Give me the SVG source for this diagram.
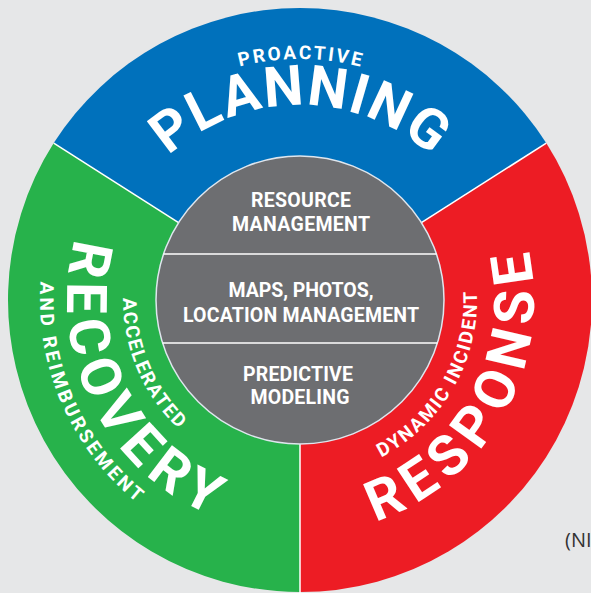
<svg xmlns="http://www.w3.org/2000/svg" xmlns:xlink="http://www.w3.org/1999/xlink" width="591" height="593" viewBox="0 0 591 593">
<style>
.seg{stroke:none}
.div{stroke:#ffffff;stroke-width:1.5;fill:none}
.big{font-family:Roboto,"Liberation Sans",sans-serif;font-weight:700;font-size:56px;fill:#ffffff}
.small{font-family:Roboto,"Liberation Sans",sans-serif;font-weight:700;font-size:19px;fill:#ffffff}
.core{font-family:Roboto,"Liberation Sans",sans-serif;font-weight:700;font-size:19.5px;fill:#ffffff;text-anchor:middle}
.note{font-family:"Open Sans","Liberation Sans",sans-serif;font-size:20px;fill:#333333}
</style>
<defs>
<path id="pProactive" d="M91.29,179.5 A241,241 0 0,1 508.71,179.5"/>
<path id="pPlanning" d="M131.13,202.5 A195,195 0 0,1 468.87,202.5"/>
<path id="pRecovery" d="M98.01,183.85 A233,233 0 0,0 267.98,530.79"/>
<path id="pAccel" d="M130.73,248.25 A177,177 0 0,0 219.64,457.71"/>
<path id="pReimb" d="M58.09,204.71 A260,260 0 0,0 204.71,541.91"/>
<path id="pResponse" d="M317.95,533.31 A234,234 0 0,0 509.6,195.95"/>
<path id="pDynamic" d="M345.81,470.97 A177,177 0 0,0 470.97,254.19"/>
</defs>
<rect width="591" height="593" fill="#e6e7e8"/>
<g id="planning">
<path class="seg" fill="#0071bc" d="M300,300 L53.73,143.11 A292,292 0 0,1 546.27,143.11 Z"/>
<text class="small" font-size="18"><textPath xlink:href="#pProactive" href="#pProactive" startOffset="50%" text-anchor="middle" textLength="122">PROACTIVE</textPath></text>
<text class="big"><textPath xlink:href="#pPlanning" href="#pPlanning" startOffset="50%" text-anchor="middle" textLength="288">PLANNING</textPath></text>
</g>
<g id="response">
<path class="seg" fill="#ed1c24" d="M300,300 L546.27,143.11 A292,292 0 0,1 300,592 Z"/>
<text class="small"><textPath xlink:href="#pDynamic" href="#pDynamic" startOffset="50%" text-anchor="middle" textLength="202">DYNAMIC INCIDENT</textPath></text>
<text class="big"><textPath xlink:href="#pResponse" href="#pResponse" startOffset="50%" text-anchor="middle" textLength="340">RESPONSE</textPath></text>
</g>
<g id="recovery">
<path class="seg" fill="#27b24b" d="M300,300 L300,592 A292,292 0 0,1 53.73,143.11 Z"/>
<text class="small"><textPath xlink:href="#pAccel" href="#pAccel" startOffset="50%" text-anchor="middle" textLength="146">ACCELERATED</textPath></text>
<text class="big"><textPath xlink:href="#pRecovery" href="#pRecovery" startOffset="50%" text-anchor="middle" textLength="336">RECOVERY</textPath></text>
<text class="small"><textPath xlink:href="#pReimb" href="#pReimb" startOffset="50%" text-anchor="middle" textLength="250">AND REIMBURSEMENT</textPath></text>
</g>
<g id="connectors">
<line class="div" x1="300" y1="300" x2="53.73" y2="143.11"/>
<line class="div" x1="300" y1="300" x2="546.27" y2="143.11"/>
<line class="div" x1="300" y1="300" x2="300" y2="593"/>
</g>
<g id="core">
<circle cx="300" cy="300" r="144" fill="#6d6e71" stroke="#dfe6ee" stroke-width="1.5"/>
<line class="div" x1="163.5" y1="254" x2="436.5" y2="254"/>
<line class="div" x1="162.6" y1="343" x2="437.4" y2="343"/>
<g id="resource">
<text class="core" x="301" y="207" textLength="100">RESOURCE</text>
<text class="core" x="301" y="231" textLength="138">MANAGEMENT</text>
</g>
<g id="maps">
<text class="core" x="301" y="297" textLength="145">MAPS, PHOTOS,</text>
<text class="core" x="301" y="322" textLength="236">LOCATION MANAGEMENT</text>
</g>
<g id="predictive">
<text class="core" x="298" y="381" textLength="110">PREDICTIVE</text>
<text class="core" x="300" y="404" textLength="99">MODELING</text>
</g>
</g>
<text class="note" x="565" y="547">(NI</text>
</svg>
